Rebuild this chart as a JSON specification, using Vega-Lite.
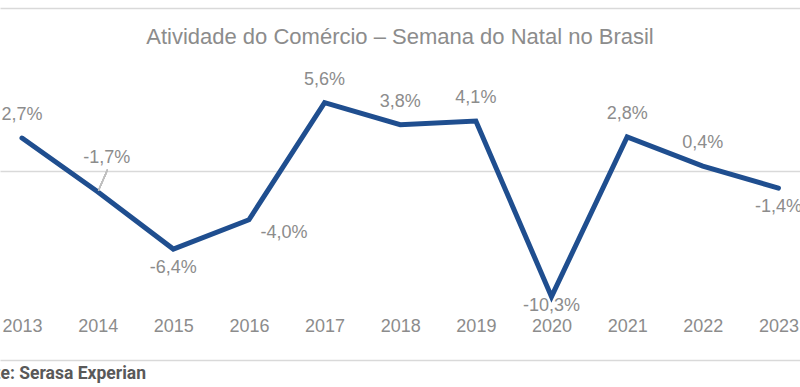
{
  "$schema": "https://vega.github.io/schema/vega-lite/v6.json",
  "width": 800,
  "height": 352,
  "autosize": {"type": "none"},
  "padding": {"top": 8, "bottom": 27, "left": 0, "right": 0},
  "background": "white",
  "config": {"view": {"stroke": null}, "font": "Liberation Sans"},
  "title": {
    "text": "Atividade do Comércio – Semana do Natal no Brasil",
    "fontSize": 22,
    "fontWeight": "normal",
    "color": "#8c8c8c",
    "font": "Liberation Sans",
    "anchor": "middle",
    "baseline": "middle",
    "offset": -51
  },
  "data": {
    "values": [
      {"ano": 2013, "valor": 2.7, "rotulo": "2,7%", "pos": "acima"},
      {"ano": 2014, "valor": -1.7, "rotulo": "-1,7%", "pos": "lado"},
      {"ano": 2015, "valor": -6.4, "rotulo": "-6,4%", "pos": "abaixo"},
      {"ano": 2016, "valor": -4.0, "rotulo": "-4,0%", "pos": "direita"},
      {"ano": 2017, "valor": 5.6, "rotulo": "5,6%", "pos": "acima"},
      {"ano": 2018, "valor": 3.8, "rotulo": "3,8%", "pos": "acima"},
      {"ano": 2019, "valor": 4.1, "rotulo": "4,1%", "pos": "acima"},
      {"ano": 2020, "valor": -10.3, "rotulo": "-10,3%", "pos": "fundo"},
      {"ano": 2021, "valor": 2.8, "rotulo": "2,8%", "pos": "acima"},
      {"ano": 2022, "valor": 0.4, "rotulo": "0,4%", "pos": "acima"},
      {"ano": 2023, "valor": -1.4, "rotulo": "-1,4%", "pos": "abaixo"}
    ]
  },
  "encoding": {
    "x": {
      "field": "ano",
      "type": "quantitative",
      "scale": {"domain": [2012.709, 2023.285], "nice": false, "zero": false},
      "axis": {
        "values": [2013, 2014, 2015, 2016, 2017, 2018, 2019, 2020, 2021, 2022, 2023],
        "format": "d",
        "grid": false,
        "ticks": false,
        "tickSize": 0,
        "domain": true,
        "domainColor": "#d9d9d9",
        "domainWidth": 1.5,
        "labelColor": "#8c8c8c",
        "labelFontSize": 18,
        "labelFont": "Liberation Sans",
        "labelBaseline": "middle",
        "labelPadding": -34,
        "labelFlush": false,
        "labelOverlap": false,
        "labelBound": false,
        "title": "Fonte: Serasa Experian",
        "titleFont": "Roboto",
        "titleFontWeight": "bold",
        "titleFontSize": 17.5,
        "titleColor": "#595959",
        "titleAlign": "left",
        "titleBaseline": "middle",
        "titleX": -35,
        "titleY": 13
      }
    },
    "y": {
      "field": "valor",
      "type": "quantitative",
      "scale": {"domain": [-15.49, 13.36], "nice": false, "zero": false},
      "axis": {
        "values": [0, 13.36],
        "grid": true,
        "gridColor": "#d9d9d9",
        "gridWidth": 1.5,
        "labels": false,
        "ticks": false,
        "domain": false,
        "title": null
      }
    }
  },
  "layer": [
    {
      "mark": {"type": "line", "color": "#1f4e8f", "strokeWidth": 5, "strokeCap": "round"}
    },
    {
      "mark": {"type": "rule", "color": "#bfbfbf", "strokeWidth": 1.2},
      "encoding": {
        "x": {"datum": 2014.13, "type": "quantitative"},
        "y": {"datum": 0.1, "type": "quantitative"},
        "x2": {"datum": 2014.01},
        "y2": {"datum": -1.6}
      }
    },
    {
      "transform": [{"filter": "datum.pos === 'acima'"}],
      "mark": {"type": "text", "dy": -23, "fontSize": 18, "color": "#8c8c8c", "baseline": "middle"},
      "encoding": {"text": {"field": "rotulo"}}
    },
    {
      "transform": [{"filter": "datum.pos === 'abaixo'"}],
      "mark": {"type": "text", "dy": 19, "fontSize": 18, "color": "#8c8c8c", "baseline": "middle"},
      "encoding": {"text": {"field": "rotulo"}}
    },
    {
      "transform": [{"filter": "datum.pos === 'fundo'"}],
      "mark": {"type": "text", "dy": 9, "fontSize": 18, "color": "#8c8c8c", "baseline": "middle"},
      "encoding": {"text": {"field": "rotulo"}}
    },
    {
      "transform": [{"filter": "datum.pos === 'lado'"}],
      "mark": {"type": "text", "dx": 9, "dy": -34, "fontSize": 18, "color": "#8c8c8c", "baseline": "middle"},
      "encoding": {"text": {"field": "rotulo"}}
    },
    {
      "transform": [{"filter": "datum.pos === 'direita'"}],
      "mark": {"type": "text", "dx": 35, "dy": 13, "fontSize": 18, "color": "#8c8c8c", "baseline": "middle"},
      "encoding": {"text": {"field": "rotulo"}}
    }
  ]
}
